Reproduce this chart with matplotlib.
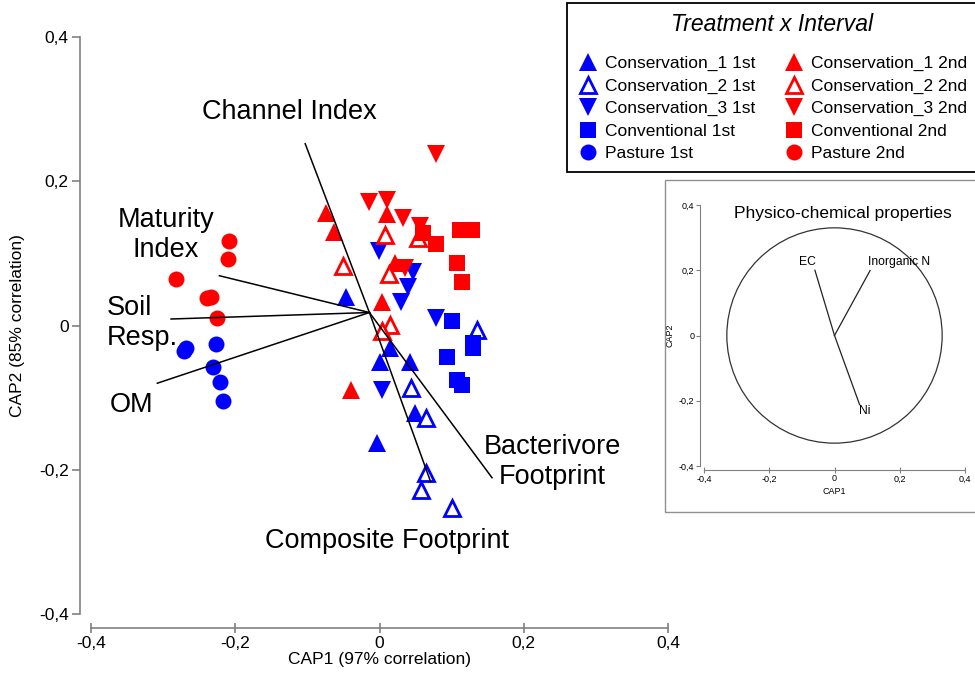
import numpy as np
import matplotlib
matplotlib.use('Agg')
import matplotlib.pyplot as plt
from matplotlib.lines import Line2D
from matplotlib.patches import Circle, Rectangle
from matplotlib.ticker import FuncFormatter

plt.rcParams['font.family'] = ['Liberation Sans', 'DejaVu Sans']

# sample scores (CAP1, CAP2) per treatment x interval
cons1_1st = [(-0.046, 0.040), (0.014, -0.031), (0.001, -0.050), (0.042, -0.050), (0.049, -0.121), (-0.003, -0.163)]
cons2_1st = [(0.135, -0.006), (0.044, -0.086), (0.065, -0.128), (0.065, -0.204), (0.058, -0.228), (0.101, -0.253)]
cons3_1st = [(-0.001, 0.103), (0.046, 0.074), (0.039, 0.053), (0.030, 0.033), (0.079, 0.011), (0.004, -0.090)]
conv_1st = [(0.101, 0.006), (0.129, -0.024), (0.130, -0.031), (0.093, -0.043), (0.108, -0.076), (0.115, -0.083)]
past_1st = [(-0.271, -0.036), (-0.268, -0.031), (-0.226, -0.025), (-0.231, -0.057), (-0.221, -0.078), (-0.217, -0.105)]
cons1_2nd = [(-0.074, 0.156), (-0.063, 0.129), (0.010, 0.154), (0.003, 0.033), (-0.040, -0.089), (0.022, 0.086)]
cons2_2nd = [(0.007, 0.126), (0.053, 0.122), (-0.050, 0.082), (0.013, 0.071), (0.015, 0.001), (0.003, -0.008)]
cons3_2nd = [(0.078, 0.238), (-0.015, 0.171), (0.011, 0.174), (0.032, 0.149), (0.056, 0.138), (0.035, 0.080)]
conv_2nd = [(0.060, 0.128), (0.111, 0.132), (0.128, 0.133), (0.079, 0.113), (0.107, 0.086), (0.114, 0.061)]
past_2nd = [(-0.208, 0.117), (-0.210, 0.092), (-0.282, 0.065), (-0.239, 0.038), (-0.233, 0.040), (-0.225, 0.010)]

# vector overlay (nematode indices)
vec_origin = (-0.014, 0.018)
vec_names = ['Channel Index', 'Maturity Index', 'Soil Resp.', 'OM', 'Bacterivore Footprint', 'Composite Footprint']
vec_ends = [(-0.103, 0.252), (-0.222, 0.069), (-0.289, 0.009), (-0.308, -0.080), (0.156, -0.211), (0.071, -0.217)]

# inset: physico-chemical vectors
pc_names = ['EC', 'Inorganic N', 'Ni']
pc_ends = [(-0.060, 0.200), (0.109, 0.199), (0.077, -0.212)]

ticks = [-0.4, -0.2, 0, 0.2, 0.4]
comma = FuncFormatter(lambda v, p: '0' if abs(v) < 1e-9 else f'{v:.1f}'.replace('.', ','))

blue, red = '#0000ff', '#ff0000'
groups = [
    ('Conservation_1 1st', cons1_1st, '^', blue, True),
    ('Conservation_2 1st', cons2_1st, '^', blue, False),
    ('Conservation_3 1st', cons3_1st, 'v', blue, True),
    ('Conventional 1st', conv_1st, 's', blue, True),
    ('Pasture 1st', past_1st, 'o', blue, True),
    ('Conservation_1 2nd', cons1_2nd, '^', red, True),
    ('Conservation_2 2nd', cons2_2nd, '^', red, False),
    ('Conservation_3 2nd', cons3_2nd, 'v', red, True),
    ('Conventional 2nd', conv_2nd, 's', red, True),
    ('Pasture 2nd', past_2nd, 'o', red, True),
]
msize = {'^': 12.5, 'v': 12.5, 's': 11, 'o': 11.5}

fig = plt.figure(figsize=(9.75, 6.8), dpi=100)
ax = fig.add_axes([91 / 975, 66 / 680, 577 / 975, 577 / 680])

handles = []
for name, pts, mk, col, filled in groups:
    pts = np.array(pts)
    kw = dict(marker=mk, linestyle='none', markersize=msize[mk] if filled else msize[mk] - 1.5)
    if filled:
        kw.update(color=col, markeredgewidth=0)
    else:
        kw.update(markerfacecolor='white', markeredgecolor=col, markeredgewidth=2)
    ax.plot(pts[:, 0], pts[:, 1], zorder=2, **kw)
    handles.append(Line2D([], [], label=name, **kw))

for end in vec_ends:
    ax.plot([vec_origin[0], end[0]], [vec_origin[1], end[1]], color='black', lw=1.1, zorder=3)

lab = dict(fontsize=19.5, color='black', zorder=4, linespacing=1.2)
ax.text(-0.125, 0.296, 'Channel Index', ha='center', va='center', **lab)
ax.text(-0.296, 0.126, 'Maturity\nIndex', ha='center', va='center', **lab)
ax.text(-0.378, 0.004, 'Soil\nResp.', ha='left', va='center', **lab)
ax.text(-0.344, -0.110, 'OM', ha='center', va='center', **lab)
ax.text(0.240, -0.189, 'Bacterivore\nFootprint', ha='center', va='center', **lab)
ax.text(0.011, -0.299, 'Composite Footprint', ha='center', va='center', **lab)

ax.set_xlim(-0.4, 0.4)
ax.set_ylim(-0.4, 0.4)
ax.set_xticks(ticks)
ax.set_yticks(ticks)
ax.xaxis.set_major_formatter(comma)
ax.yaxis.set_major_formatter(comma)
for s in ['top', 'right']:
    ax.spines[s].set_visible(False)
ax.spines['left'].set_position(('outward', 8))
ax.spines['bottom'].set_position(('outward', 10))
for s in ['left', 'bottom']:
    ax.spines[s].set_color('#808080')
    ax.spines[s].set_linewidth(1.2)
ax.tick_params(axis='y', direction='out', length=6, width=1.2, color='#808080', labelsize=12.5, pad=2)
ax.tick_params(axis='x', direction='inout', length=7, width=1.2, color='#808080', labelsize=12.5, pad=2)
ax.set_xlabel('CAP1 (97% correlation)', fontsize=12.5, labelpad=1)
ax.set_ylabel('CAP2 (85% correlation)', fontsize=12.5, labelpad=10)

leg = fig.legend(handles=handles, ncol=2, loc='upper left',
                 bbox_to_anchor=(567 / 975, 677 / 680), fontsize=12.5,
                 title='Treatment x Interval', title_fontproperties={'size': 16.5, 'style': 'italic'},
                 frameon=True, fancybox=False, edgecolor='black', framealpha=1,
                 labelspacing=0.42, columnspacing=1.6, handletextpad=0.4, handlelength=1.2,
                 borderpad=0.6, borderaxespad=0)
leg.get_frame().set_linewidth(1.3)
leg._legend_box.sep = 14

# inset frame
fig.patches.append(Rectangle((665 / 975, 168 / 680), 0.4, 332 / 680, transform=fig.transFigure,
                             fill=False, edgecolor='#909090', lw=1.0))

ins = fig.add_axes([704 / 975, 214 / 680, 261 / 975, 261 / 680])
ins.add_patch(Circle((0, 0), 0.33, fill=False, edgecolor='#333333', lw=0.9))
for end in pc_ends:
    ins.plot([0, end[0]], [0, end[1]], color='#222222', lw=0.9)
ins.text(-0.083, 0.224, 'EC', ha='center', va='center', fontsize=8.7)
ins.text(0.104, 0.224, 'Inorganic N', ha='left', va='center', fontsize=8.7)
ins.text(0.092, -0.230, 'Ni', ha='center', va='center', fontsize=8.7)
ins.text(0.025, 0.374, 'Physico-chemical properties', ha='center', va='center', fontsize=12.5)
ins.set_xlim(-0.4, 0.4)
ins.set_ylim(-0.4, 0.4)
ins.set_xticks(ticks)
ins.set_yticks(ticks)
ins.xaxis.set_major_formatter(comma)
ins.yaxis.set_major_formatter(comma)
for s in ['top', 'right']:
    ins.spines[s].set_visible(False)
ins.spines['left'].set_position(('outward', 3))
ins.spines['bottom'].set_position(('outward', 3))
for s in ['left', 'bottom']:
    ins.spines[s].set_color('#808080')
    ins.spines[s].set_linewidth(0.8)
ins.tick_params(axis='y', direction='out', length=3, width=0.8, color='#808080', labelsize=6.5, pad=1)
ins.tick_params(axis='x', direction='inout', length=4, width=0.8, color='#808080', labelsize=6.5, pad=1)
ins.set_xlabel('CAP1', fontsize=6.5, labelpad=3)
ins.set_ylabel('CAP2', fontsize=6.5, labelpad=3)

fig.savefig('out.png', dpi=100)
